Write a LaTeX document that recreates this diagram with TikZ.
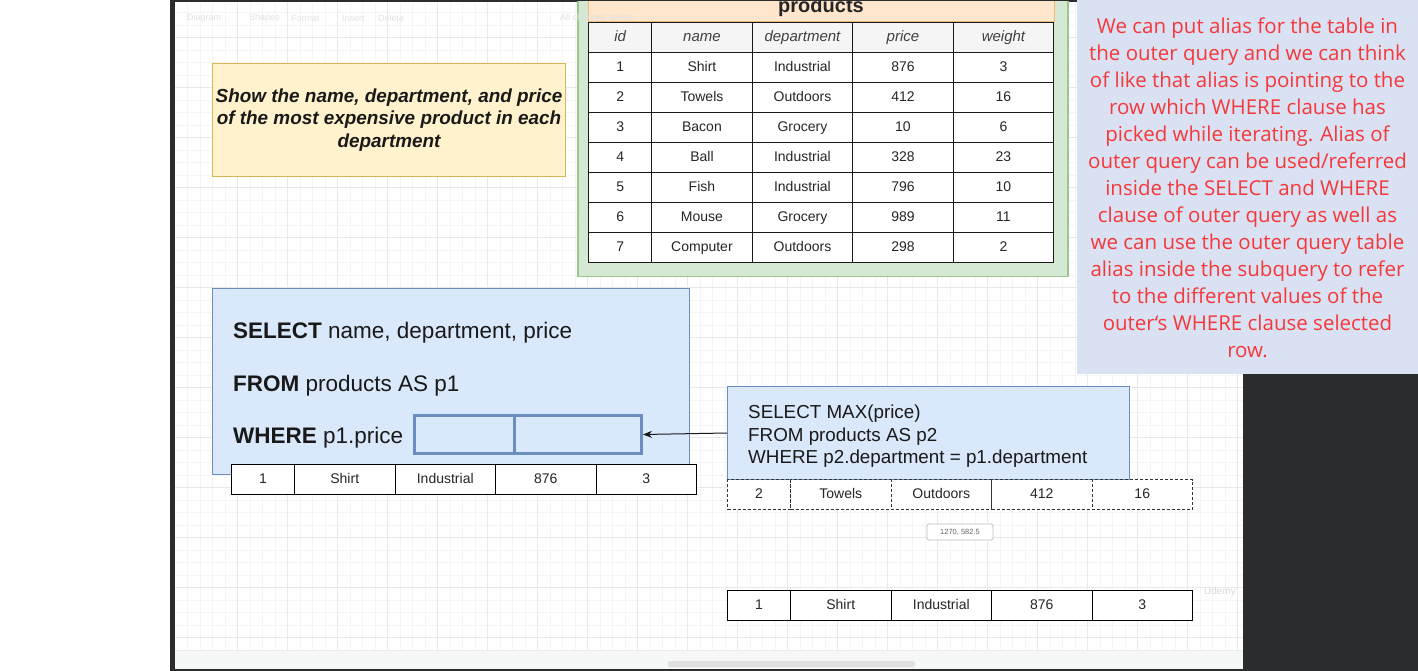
\documentclass[tikz,border=0pt]{standalone}
\usepackage{fontspec}
\setmainfont{Liberation Sans}
\newfontfamily\notefont{Open Sans}
\usetikzlibrary{arrows.meta}
\definecolor{darkbg}{HTML}{2B2C2D}
\definecolor{gridminor}{HTML}{F5F5F5}
\definecolor{gridmajor}{HTML}{E9E9E9}
\definecolor{yellowfill}{HTML}{FFF2CC}
\definecolor{yellowstroke}{HTML}{D6B656}
\definecolor{greenfill}{HTML}{D5E8D4}
\definecolor{greenstroke}{HTML}{9CC78C}
\definecolor{orangefill}{HTML}{FFE6CC}
\definecolor{orangestroke}{HTML}{F0B878}
\definecolor{headerfill}{HTML}{F5F5F5}
\definecolor{bluefill}{HTML}{DAE8FC}
\definecolor{bluestroke}{HTML}{6C8EBF}
\definecolor{notefill}{HTML}{DAE1F3}
\definecolor{notered}{HTML}{F5383A}
\definecolor{faint}{HTML}{E2E2E2}
\definecolor{barfill}{HTML}{F6F7F7}

\newcommand\datarow[5]{%
  \foreach \t [count=\i] in #4 {%
    \pgfmathsetmacro\cx{#2+(\i>1)*63+max(\i-2,0)*100.5}%
    \pgfmathsetmacro\cw{(\i==1)*63+(\i>1)*100.5}%
    \node[#5, minimum width=\cw pt, minimum height=30pt, anchor=north west] (#1-\i) at (\cx,#3) {\t};
  }}

\tikzset{
  cell/.style={draw=black, line width=1pt, fill=white, inner sep=0pt, text height=10pt, text depth=3pt, font=\fontsize{14}{16}\selectfont, text=black!85},
  tcell/.style={draw=black!90, line width=1.4pt, fill=white, inner sep=0pt, text height=10pt, text depth=3pt, font=\fontsize{14}{16}\selectfont, text=black!85},
  hcell/.style={tcell, fill=headerfill, font=\fontsize{15}{17}\selectfont\itshape, text=black!75},
  selcell/.style={draw=black!80, densely dashed, line width=1pt, fill=white, inner sep=0pt, text height=10pt, text depth=3pt, font=\fontsize{14}{16}\selectfont, text=black!85},
  qbox/.style={draw=bluestroke, fill=bluefill, line width=1pt, inner sep=0pt, anchor=north west},
  slot/.style={draw=bluestroke, fill=bluefill, line width=3pt, inner sep=0pt, anchor=north west},
  qtext/.style={anchor=base west, inner sep=0pt, text=black!90},
  tool/.style={text=faint, font=\fontsize{9}{11}\selectfont, inner sep=0pt, anchor=west},
}

\begin{document}
\begin{tikzpicture}[x=1pt,y=-1pt]
\useasboundingbox (0,0) rectangle (1418,671);
\fill[white] (0,0) rectangle (1418,671);
\fill[darkbg] (170,0) rectangle (1418,671);
\fill[white] (175,2) rectangle (1243,669);

\begin{scope}
\clip (175,2) rectangle (1243,669);
% grid
\foreach \gx in {187.5,200,...,1243} {\draw[gridminor, line width=0.8pt] (\gx,2) -- (\gx,669);}
\foreach \gy in {12.5,25,...,669} {\draw[gridminor, line width=0.8pt] (175,\gy) -- (1243,\gy);}
\foreach \gx in {237,287,...,1243} {\draw[gridmajor, line width=0.8pt] (\gx,2) -- (\gx,669);}
\foreach \gy in {37,87,...,669} {\draw[gridmajor, line width=0.8pt] (175,\gy) -- (1243,\gy);}

% products container
\node[draw=greenstroke, fill=greenfill, line width=1.5pt, minimum width=490pt, minimum height=300pt, anchor=south west, inner sep=0pt] (container) at (577,277) {};
\node[draw=orangestroke, fill=orangefill, line width=1pt, minimum width=466pt, minimum height=40pt, anchor=south west, inner sep=0pt] (titleband) at (588,22) {};
\node[anchor=base, inner sep=0pt, font=\fontsize{20}{22}\selectfont\bfseries, text=black!85] (title) at (821,13) {products};
\datarow{h}{588}{22}{{id,name,department,price,weight}}{hcell}
\foreach \row [count=\r] in {{1,Shirt,Industrial,876,3},{2,Towels,Outdoors,412,16},{3,Bacon,Grocery,10,6},{4,Ball,Industrial,328,23},{5,Fish,Industrial,796,10},{6,Mouse,Grocery,989,11},{7,Computer,Outdoors,298,2}}{
  \pgfmathsetmacro\ry{22+30*\r}
  \datarow{p\r}{588}{\ry}{\row}{tcell}
}

% task box
\node[draw=yellowstroke, fill=yellowfill, line width=1pt, minimum width=353pt, minimum height=113pt, anchor=north west, inner sep=0pt] (task) at (212,63) {};
\node[align=center, inner sep=0pt, font=\fontsize{18.9}{22.5}\selectfont\bfseries\itshape, text=black!90] (tasktext) at (389,120) {Show the name, department, and price\\of the most expensive product in each\\department};

% outer query
\node[qbox, minimum width=477pt, minimum height=186pt] (outer) at (212,288) {};
\node[qtext, font=\fontsize{22.5}{25}\selectfont] (l1) at (233,338) {\textbf{SELECT} name, department, price};
\node[qtext, font=\fontsize{22.5}{25}\selectfont] (l2) at (233,391) {\textbf{FROM} products AS p1};
\node[qtext, font=\fontsize{22.5}{25}\selectfont] (l3) at (233,443) {\textbf{WHERE} p1.price};
\node[slot, minimum width=100pt, minimum height=38pt] (slotA) at (413,414) {};
\node[slot, minimum width=127pt, minimum height=38pt] (slotB) at (513,414) {};
\datarow{ra}{231}{464}{{1,Shirt,Industrial,876,3}}{cell}

% subquery
\node[qbox, minimum width=402pt, minimum height=93pt] (sub) at (727,386) {};
\node[qtext, font=\fontsize{18.8}{22}\selectfont] (s1) at (748,418) {SELECT MAX(price)};
\node[qtext, font=\fontsize{18.8}{22}\selectfont] (s2) at (748,441) {FROM products AS p2};
\node[qtext, font=\fontsize{18.8}{22}\selectfont] (s3) at (748,463) {WHERE p2.department = p1.department};
\draw[-{Stealth[length=9pt,width=7pt]}, line width=1pt, black!90] (sub.west) -- (slotB.east);
\datarow{rb}{727}{479}{{2,Towels,Outdoors,412,16}}{selcell}

% coordinate tooltip
\node[draw=black!25, fill=white, rounded corners=1.5pt, line width=0.8pt, minimum width=66pt, minimum height=16pt, inner sep=0pt, font=\fontsize{7.5}{9}\selectfont, text=black!60] (tip) at (960,532) {1270, 582.5};

\datarow{rc}{727}{590}{{1,Shirt,Industrial,876,3}}{cell}
\node[inner sep=0pt, font=\fontsize{10}{12}\selectfont, text=black!15] (udemy) at (1220,592) {Udemy};

% toolbar (faded overlay)
\node[tool] (tb1) at (187,18) {Diagram};
\node[tool] (tb2) at (249,18) {Shapes};
\node[tool] (tb3) at (291,18) {Format};
\node[tool] (tb4) at (342,18) {Insert};
\node[tool] (tb5) at (378,18) {Delete};
\node[tool, text=black!12] (tb6) at (560,18) {All changes saved};

% bottom bar
\fill[barfill] (175,650) rectangle (1243,669);
\draw[black!8, line width=0.8pt] (175,650) -- (1243,650);
\fill[black!12, rounded corners=2pt] (668,661) rectangle (915,667);
\end{scope}

% note
\node[fill=notefill, minimum width=341pt, minimum height=374pt, anchor=north west, inner sep=0pt] (note) at (1077,0) {};
\node[align=center, inner sep=0pt, text=notered, font=\notefont\fontsize{20.5}{27}\selectfont] (notetext) at (1247.5,188) {We can put alias for the table in\\the outer query and we can think\\of like that alias is pointing to the\\row which WHERE clause has\\picked while iterating. Alias of\\outer query can be used/referred\\inside the SELECT and WHERE\\clause of outer query as well as\\we can use the outer query table\\alias inside the subquery to refer\\to the different values of the\\outer‘s WHERE clause selected\\row.};
\end{tikzpicture}
\end{document}
